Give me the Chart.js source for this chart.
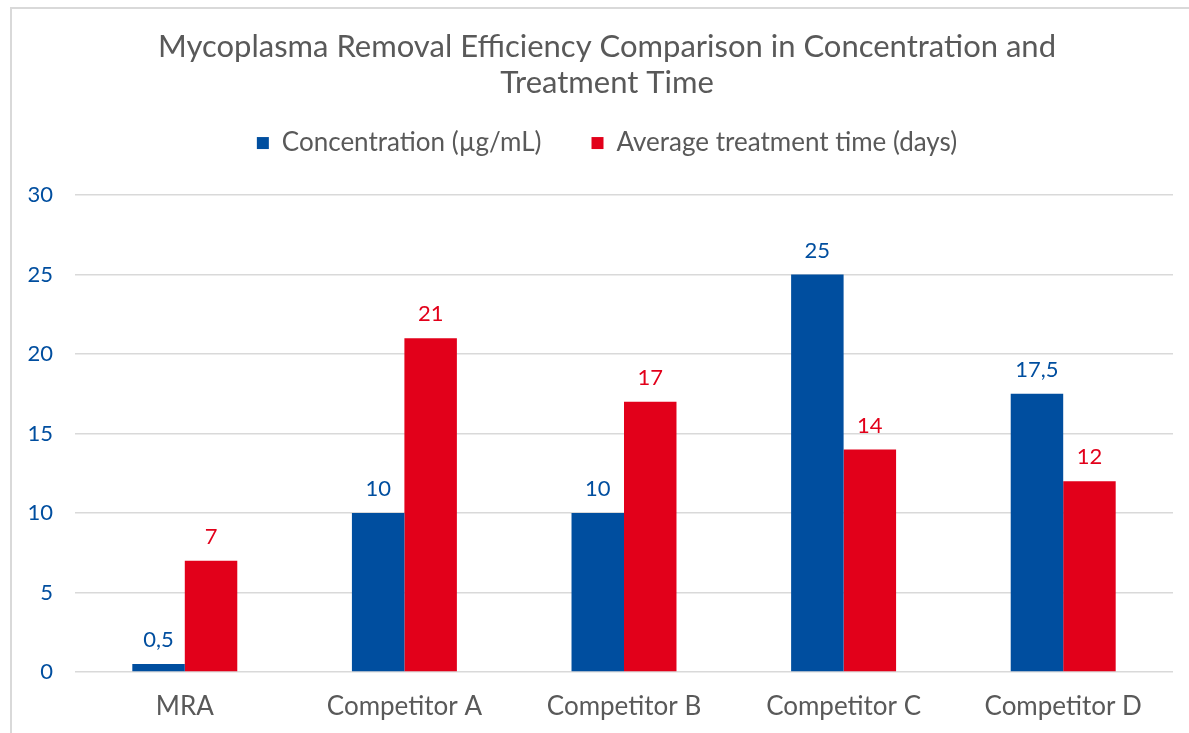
<!DOCTYPE html>
<html>
<head>
<meta charset="utf-8">
<script src="https://cdn.jsdelivr.net/npm/chart.js@4.4.1/dist/chart.umd.min.js"></script>
<style>
  html, body { margin: 0; padding: 0; background: #fff; overflow: hidden; }
  #wrap { position: relative; width: 1189px; height: 733px; overflow: hidden; }
  #frame { position: absolute; left: 10px; top: 7px; width: 1400px; height: 900px; border: 2px solid #d9d9d9; box-sizing: border-box; }
  canvas { position: absolute; left: 0; top: 0; }
</style>
</head>
<body>
<div id="wrap">
  <div id="frame"></div>
  <canvas id="c" width="1189" height="733"></canvas>
</div>
<script>
const categories = ['MRA', 'Competitor A', 'Competitor B', 'Competitor C', 'Competitor D'];
const concentration = [0.5, 10, 10, 25, 17.5];
const treatmentDays = [7, 21, 17, 14, 12];
const seriesNames = ['Concentration (µg/mL)', 'Average treatment time (days)'];
const titleLines = ['Mycoplasma Removal Efficiency Comparison in Concentration and', 'Treatment Time'];
const yTicks = [0, 5, 10, 15, 20, 25, 30];

const BLUE = '#004E9F';
const RED = '#E2001A';
const GREY = '#595959';
const FONT = 'Lato';

function fmt(v) { return String(v).replace('.', ','); }

const dataLabels = {
  id: 'dataLabels',
  afterDatasetsDraw(chart) {
    const ctx = chart.ctx;
    ctx.save();
    ctx.font = '22px ' + FONT;
    ctx.textAlign = 'center';
    ctx.textBaseline = 'middle';
    chart.data.datasets.forEach((ds, di) => {
      const meta = chart.getDatasetMeta(di);
      meta.data.forEach((bar, i) => {
        ctx.fillStyle = ds.backgroundColor;
        ctx.fillText(fmt(ds.data[i]), bar.x, bar.y - 24);
      });
    });
    ctx.restore();
  }
};

new Chart(document.getElementById('c'), {
  type: 'bar',
  data: {
    labels: categories,
    datasets: [
      { label: seriesNames[0], data: concentration, backgroundColor: BLUE },
      { label: seriesNames[1], data: treatmentDays, backgroundColor: RED }
    ]
  },
  options: {
    responsive: false,
    animation: false,
    devicePixelRatio: 1,
    datasets: { bar: { categoryPercentage: 0.478, barPercentage: 1.0 } },
    layout: { padding: { left: 17, right: -8, top: 0, bottom: 0 } },
    plugins: {
      title: {
        display: true,
        text: titleLines,
        color: GREY,
        font: { family: FONT, size: 31, weight: 'normal', lineHeight: 1.175 },
        padding: { top: 28.8, bottom: -21.6 }
      },
      legend: {
        display: true,
        position: 'top',
        labels: {
          boxWidth: 12, boxHeight: 12, padding: 50,
          color: GREY,
          font: { family: FONT, size: 26 }
        }
      },
      subtitle: {
        display: true,
        text: '',
        weight: 500,
        font: { size: 10, lineHeight: 1 },
        padding: { top: 0, bottom: 19 }
      },
      tooltip: { enabled: false }
    },
    scales: {
      x: {
        grid: { display: false, drawTicks: false },
        border: { display: false },
        ticks: { color: GREY, font: { family: FONT, size: 26 }, padding: 19, maxRotation: 0 },
        afterFit(scale) { scale.height = 61; }
      },
      y: {
        min: 0, max: 30,
        afterBuildTicks(scale) { scale.ticks = yTicks.map(v => ({ value: v })); },
        grid: { color: '#d9d9d9', lineWidth: 1.5, drawTicks: false },
        border: { display: false },
        ticks: { color: BLUE, font: { family: FONT, size: 22 }, padding: 22, callback: (v) => String(v) },
        afterFit(scale) { scale.width = 58; }
      },
      yRight: {
        type: 'linear',
        axis: 'y',
        position: 'right',
        min: 0, max: 30,
        grid: { display: false, drawTicks: false },
        border: { display: false },
        ticks: { display: false },
        afterFit(scale) { scale.width = 24; }
      }
    }
  },
  plugins: [dataLabels]
});
</script>
</body>
</html>
